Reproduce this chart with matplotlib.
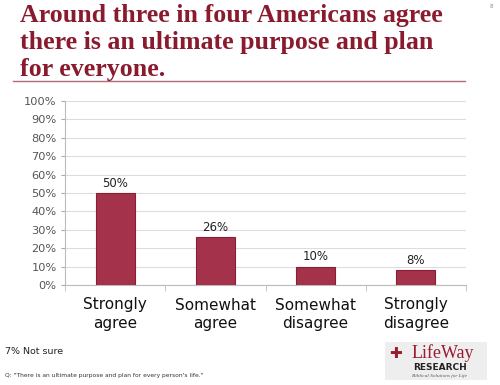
import matplotlib
matplotlib.use("Agg")
import matplotlib.pyplot as plt
from matplotlib.patches import Rectangle
import numpy as np

categories = ["Strongly\nagree", "Somewhat\nagree", "Somewhat\ndisagree", "Strongly\ndisagree"]
values = [50, 26, 10, 8]
value_labels = ["50%", "26%", "10%", "8%"]
yticks = [0, 10, 20, 30, 40, 50, 60, 70, 80, 90, 100]
ytick_labels = [f"{t}%" for t in yticks]

title = "Around three in four Americans agree\nthere is an ultimate purpose and plan\nfor everyone."
note = "7% Not sure"
question = "Q: \"There is an ultimate purpose and plan for every person's life.\""

fig = plt.figure(figsize=(5, 3.85), dpi=100)
W, H = 500, 385

def fx(x): return x / W
def fy(y): return 1 - y / H

ax = fig.add_axes([fx(65), fy(285), fx(466) - fx(65), fy(101) - fy(285)])
x = np.arange(len(categories))
bar_color = "#A3324A"
ax.bar(x, values, width=0.39, color=bar_color, edgecolor="#8A1E33", linewidth=0.8, zorder=3)
for xi, v, lab in zip(x, values, value_labels):
    ax.text(xi, v + 1.8, lab, ha="center", va="bottom", fontsize=8.5, color="#222222")

ax.set_xlim(-0.5, len(categories) - 0.5)
ax.set_ylim(0, 100)
ax.set_yticks(yticks)
ax.set_yticklabels(ytick_labels, fontsize=8.2, color="#555555")
ax.yaxis.grid(True, color="#dddddd", linewidth=0.8, zorder=0)
ax.set_axisbelow(True)
ax.tick_params(axis="y", length=3, color="#aaaaaa", pad=3)

ax.set_xticks(x)
ax.set_xticklabels(categories, fontsize=11, color="#111111", linespacing=1.3)
ax.tick_params(axis="x", length=0, pad=9)
ax.set_xticks(np.arange(-0.5, len(categories)), minor=True)
ax.tick_params(axis="x", which="minor", length=4, color="#bbbbbb")

for s in ["top", "right"]:
    ax.spines[s].set_visible(False)
ax.spines["left"].set_color("#bbbbbb")
ax.spines["bottom"].set_color("#bbbbbb")

# Title
fig.text(fx(20), fy(4), title, ha="left", va="top", fontsize=18.6, fontweight="bold",
         family="Liberation Serif", color="#8A1A2E", linespacing=1.23)
fig.add_artist(plt.Line2D([fx(13), fx(465)], [fy(81), fy(81)], color="#B36A78", linewidth=1.0))
fig.text(fx(491), fy(7), "8", ha="center", va="center", fontsize=4, color="#888888")

fig.text(fx(5), fy(352), note, ha="left", va="center", fontsize=6.8, color="#222222")
fig.text(fx(5), fy(376), question, ha="left", va="center", fontsize=4.3, color="#333333")

# Logo
fig.add_artist(Rectangle((fx(385), fy(380)), fx(487) - fx(385), fy(342) - fy(380),
                         transform=fig.transFigure, facecolor="#eeeeee", edgecolor="none"))
fig.text(fx(396), fy(353), "✚", ha="center", va="center", fontsize=11, color="#9B1B30")
fig.text(fx(443), fy(353), "LifeWay", ha="center", va="center", fontsize=13,
         family="Liberation Serif", color="#9B1B30")
fig.text(fx(440), fy(367), "RESEARCH", ha="center", va="center", fontsize=6.5,
         fontweight="bold", color="#222222")
fig.text(fx(440), fy(376), "Biblical Solutions for Life", ha="center", va="center",
         fontsize=3.8, style="italic", family="Liberation Serif", color="#555555")

fig.savefig("out.png", dpi=100)
